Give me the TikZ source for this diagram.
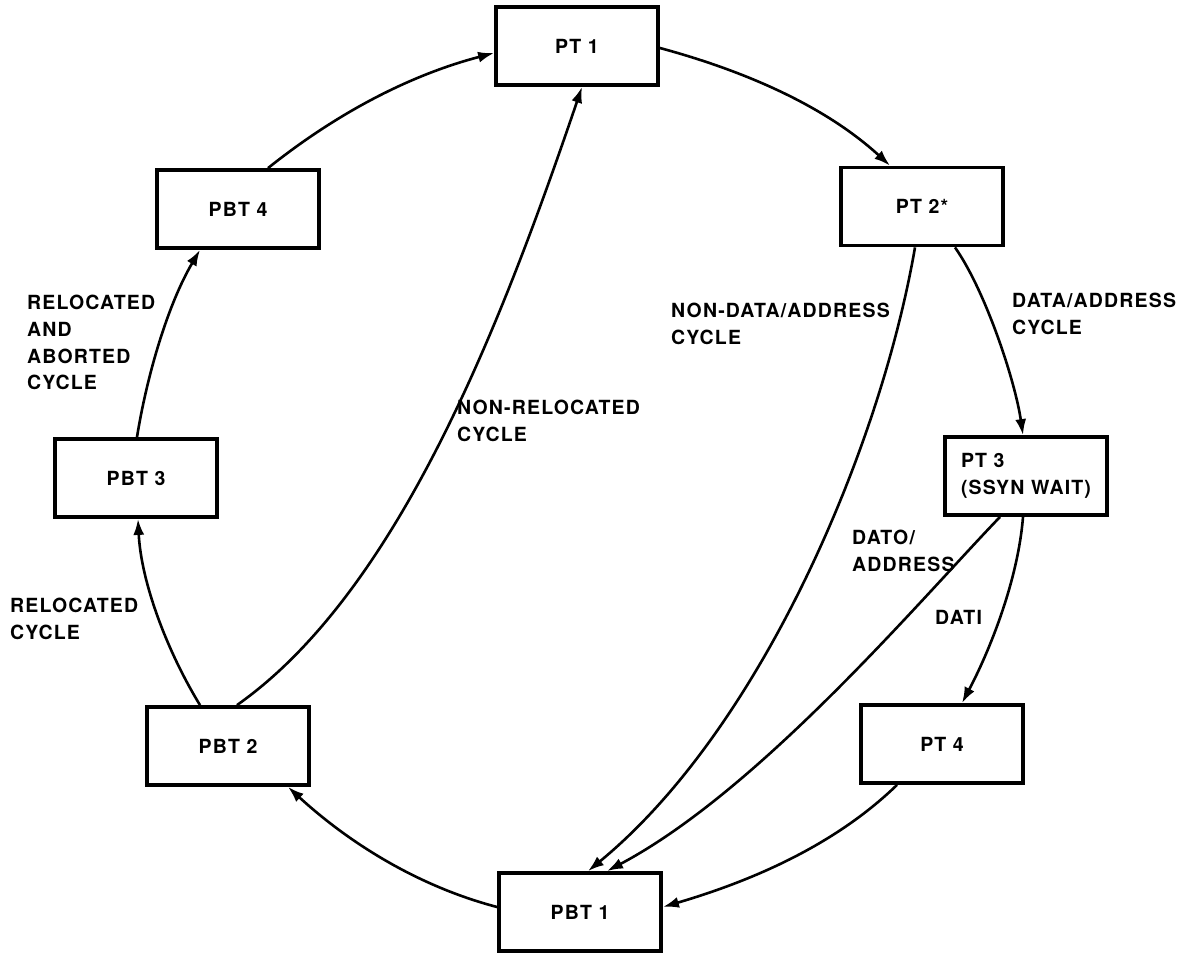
\documentclass[tikz,border=0pt]{standalone}
\usepackage{fontspec}
\setmainfont{TeX Gyre Heros}[LetterSpace=6]
\usetikzlibrary{arrows.meta,calc}
\begin{document}
\begin{tikzpicture}[x=1pt,y=-1pt,
  box/.style={draw,line width=3.8pt,minimum width=162pt,minimum height=78pt,inner sep=0pt,font=\fontsize{19.5}{26.7}\selectfont\bfseries},
  lbl/.style={inner sep=0pt,align=left,font=\fontsize{19.5}{26.7}\selectfont\bfseries},
  conn/.style={line width=2.6pt,-{Latex[length=16pt,width=11pt]}}]
\useasboundingbox (0,0) rectangle (1199,953);
\node[box] (pt1) at (577,46) {PT 1};
\node[box] (pt2) at (922,206.5) {PT 2*};
\node[box,align=left] (pt3) at (1026,476) {PT 3\\(SSYN WAIT)};
\node[box] (pt4) at (942,744) {PT 4};
\node[box] (pbt1) at (580,912) {PBT 1};
\node[box] (pbt2) at (228,746) {PBT 2};
\node[box] (pbt3) at (136,478) {PBT 3};
\node[box] (pbt4) at (238,209) {PBT 4};

\draw[conn] ($(pbt4.north)+(30,0)$) .. controls (337,113) and (410,75) .. ($(pt1.west)+(0,7)$);
\draw[conn] ($(pt1.east)+(0,2)$) .. controls (745,71) and (825,106) .. ($(pt2.north)+(-32,0)$);
\draw[conn] ($(pt2.south)+(33,0)$) .. controls (985,290) and (1015,380) .. ($(pt3.north)+(-3,0)$);
\draw[conn] ($(pt2.south)+(-7,0)$) .. controls (880,450) and (760,730) .. ($(pbt1.north)+(8,0)$);
\draw[conn] ($(pt3.south)+(-26,0)$) .. controls (920,600) and (760,790) .. ($(pbt1.north)+(27,0)$);
\draw[conn] ($(pt3.south)+(-3,0)$) .. controls (1018,580) and (990,650) .. ($(pt4.north)+(20,0)$);
\draw[conn] ($(pt4.south)+(-45,0)$) .. controls (833,847) and (748,882) .. ($(pbt1.east)+(0,-5)$);
\draw[conn] ($(pbt1.west)+(0,-5)$) .. controls (417,886) and (348,842) .. ($(pbt2.south)+(60,0)$);
\draw[conn] ($(pbt2.north)+(-28,0)$) .. controls (167,651) and (141,582) .. ($(pbt3.south)+(2,0)$);
\draw[conn] ($(pbt3.north)+(1,0)$) .. controls (147,375) and (168,304) .. ($(pbt4.south)+(-38,0)$);
\draw[conn] ($(pbt2.north)+(9,0)$) .. controls (399,591) and (502,322) .. ($(pt1.south)+(5,0)$);

\node[lbl,anchor=north east] (l1) at (890,303) {NON-DATA/ADDRESS\\CYCLE};
\node[lbl,anchor=north west] (l2) at (1012,293) {DATA/ADDRESS\\CYCLE};
\node[lbl,anchor=north west] (l3) at (27,295) {RELOCATED\\AND\\ABORTED\\CYCLE};
\node[lbl,anchor=north west] (l4) at (457,400) {NON-RELOCATED\\CYCLE};
\node[lbl,anchor=north west] (l5) at (10,598) {RELOCATED\\CYCLE};
\node[lbl,anchor=north west] (l6) at (852,530) {DATO/\\ADDRESS};
\node[lbl,anchor=north west] (l7) at (935,610) {DATI};
\end{tikzpicture}
\end{document}
